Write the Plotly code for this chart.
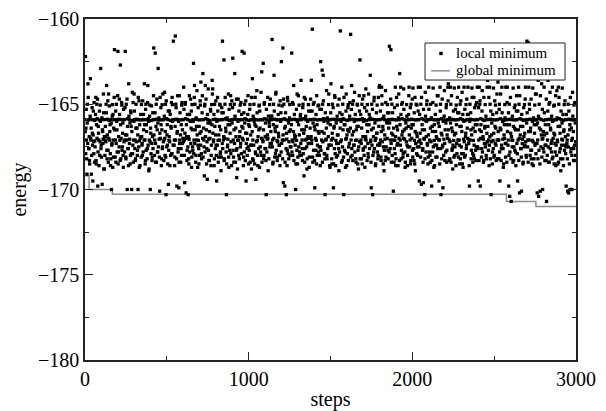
import numpy as np
import plotly.graph_objects as go

# local minimum energy (20 values per row, one value every STEP steps)
STEP = 3
local_min = [
    -165.9, -162.2, -166.4, -167.1, -169.1, -165.0, -163.8, -165.92, -167.6, -168.3, -165.88, -163.5, -167.1, -169.1, -165.9, -166.7, -169.5, -165.4, -167.9, -165.95,
    -167.15, -165.9, -164.6, -168.5, -165.0, -165.85, -169.8, -166.3, -167.1, -165.92, -168.0, -165.05, -162.9, -167.4, -165.9, -169.7, -166.6, -167.05, -165.5, -168.8,
    -165.9, -167.1, -166.9, -165.0, -163.9, -168.2, -165.88, -167.7, -164.4, -165.95, -167.1, -166.2, -168.6, -165.9, -170.0, -167.3, -165.02, -165.6, -168.1, -165.9,
    -161.8, -165.9, -167.1, -168.4, -165.0, -166.5, -165.92, -161.9, -167.8, -165.88, -164.7, -167.12, -162.7, -168.2, -165.9, -165.05, -167.5, -166.1, -168.7, -165.9,
    -165.9, -167.1, -161.9, -168.1, -165.0, -166.8, -170.0, -165.85, -167.6, -163.8, -165.9, -167.05, -168.5, -165.4, -166.3, -170.0, -165.95, -167.9, -164.9, -167.1,
    -164.4, -165.9, -167.1, -168.2, -165.0, -165.88, -166.4, -167.7, -170.0, -165.9, -164.8, -167.15, -168.6, -165.92, -166.9, -165.02, -167.4, -168.0, -165.9, -165.6,
    -165.9, -163.8, -167.1, -168.3, -165.0, -166.2, -165.9, -167.6, -163.9, -165.85, -168.9, -167.1, -165.05, -170.0, -166.7, -165.95, -167.3, -168.1, -165.5, -165.9,
    -161.7, -165.9, -167.1, -162.0, -168.4, -165.0, -165.88, -166.5, -167.8, -162.9, -165.9, -167.05, -170.1, -164.6, -165.92, -166.2, -168.2, -165.03, -167.5, -165.9,
    -165.9, -167.1, -164.3, -168.0, -165.0, -170.3, -165.85, -166.8, -167.4, -165.9, -169.7, -167.12, -165.4, -168.6, -165.95, -166.3, -164.9, -167.9, -165.02, -165.9,
    -161.3, -165.9, -167.1, -168.1, -161.0, -165.0, -165.88, -169.8, -166.6, -165.9, -167.6, -169.9, -164.5, -167.1, -165.92, -168.4, -166.2, -165.05, -167.3, -165.9,
    -165.9, -164.0, -167.1, -169.6, -165.0, -165.85, -170.2, -166.9, -167.7, -165.9, -170.3, -168.2, -167.05, -165.6, -165.95, -164.7, -166.4, -168.7, -165.02, -167.5,
    -165.9, -162.6, -167.1, -163.9, -165.0, -165.88, -168.0, -166.3, -164.2, -165.9, -167.4, -167.12, -168.5, -165.92, -166.7, -165.05, -163.7, -167.9, -165.9, -164.5,
    -163.2, -165.9, -167.1, -169.2, -165.0, -163.9, -165.85, -166.5, -167.6, -169.4, -165.9, -164.1, -167.05, -168.3, -165.95, -166.1, -165.4, -168.0, -165.02, -163.6,
    -164.1, -165.9, -167.1, -168.6, -165.0, -165.88, -166.8, -167.4, -169.5, -165.9, -164.6, -167.12, -168.1, -165.92, -166.3, -165.05, -167.8, -168.9, -165.9, -165.5,
    -161.3, -165.9, -167.1, -162.4, -168.2, -165.0, -165.85, -166.6, -170.3, -165.9, -167.5, -167.05, -164.4, -168.7, -165.95, -166.2, -165.02, -167.9, -165.9, -164.8,
    -165.9, -162.3, -167.1, -168.4, -165.0, -163.2, -165.88, -166.4, -167.7, -169.3, -165.9, -167.12, -164.7, -168.0, -165.92, -166.9, -165.05, -167.3, -165.9, -165.6,
    -161.9, -165.9, -167.1, -168.1, -162.0, -165.0, -165.85, -166.7, -169.5, -165.9, -167.6, -167.05, -164.5, -168.5, -165.95, -166.3, -165.02, -167.4, -165.9, -168.8,
    -165.9, -163.5, -167.1, -168.3, -165.0, -165.88, -166.2, -167.8, -169.4, -165.9, -164.2, -167.12, -168.6, -165.92, -166.5, -165.05, -165.4, -167.5, -165.9, -168.0,
    -163.1, -165.9, -167.1, -162.6, -168.2, -165.0, -165.85, -166.9, -167.6, -170.3, -165.9, -167.05, -164.6, -168.9, -165.95, -166.1, -165.02, -167.3, -165.9, -165.7,
    -165.9, -161.2, -167.1, -168.4, -165.0, -163.3, -165.88, -166.4, -167.9, -164.3, -165.9, -167.12, -168.1, -165.92, -166.7, -165.05, -167.4, -168.6, -165.9, -165.5,
    -162.5, -165.9, -167.1, -161.7, -169.6, -165.0, -165.85, -169.8, -166.3, -165.9, -170.3, -167.05, -167.7, -164.8, -165.95, -168.2, -166.6, -165.02, -167.5, -165.9,
    -165.9, -162.0, -167.1, -168.0, -165.0, -163.9, -165.88, -166.8, -167.4, -170.0, -165.9, -167.12, -164.4, -168.5, -165.92, -166.2, -165.05, -167.8, -165.9, -165.6,
    -163.6, -165.9, -167.1, -168.3, -165.0, -165.85, -169.2, -166.5, -167.6, -164.7, -165.9, -167.05, -168.8, -165.95, -166.9, -165.02, -167.3, -168.1, -165.9, -165.4,
    -165.9, -163.6, -167.1, -160.6, -168.4, -165.0, -165.88, -166.3, -169.9, -165.9, -167.7, -167.12, -164.5, -168.0, -165.92, -166.6, -165.05, -167.5, -165.9, -168.6,
    -162.5, -165.9, -167.1, -163.0, -165.0, -163.3, -165.85, -166.7, -167.9, -170.3, -165.9, -167.05, -164.2, -168.2, -165.95, -166.1, -165.02, -167.4, -165.9, -168.7,
    -165.9, -163.8, -167.1, -168.5, -165.0, -165.88, -169.9, -166.4, -167.6, -164.6, -165.9, -167.12, -168.1, -165.92, -166.8, -165.05, -167.3, -168.9, -165.9, -165.5,
    -160.7, -165.9, -167.1, -164.0, -168.3, -165.0, -165.85, -170.3, -166.2, -165.9, -167.8, -167.05, -164.4, -168.6, -165.95, -166.5, -165.02, -167.5, -165.9, -165.7,
    -165.9, -160.9, -167.1, -163.9, -168.0, -165.0, -165.88, -166.6, -167.4, -164.3, -165.9, -167.12, -168.4, -165.92, -166.3, -165.05, -167.7, -168.8, -165.9, -165.4,
    -162.4, -165.9, -167.1, -168.2, -165.0, -165.85, -166.9, -167.6, -164.5, -165.9, -168.7, -167.05, -164.1, -165.95, -166.2, -165.02, -167.3, -168.1, -165.9, -165.6,
    -165.9, -163.3, -167.1, -169.9, -165.0, -165.88, -170.3, -166.4, -167.8, -164.6, -165.9, -167.12, -168.5, -165.92, -166.7, -165.05, -167.4, -168.0, -165.9, -164.0,
    -163.9, -165.9, -167.1, -168.3, -164.0, -165.0, -165.85, -166.5, -167.5, -168.9, -165.9, -167.05, -164.2, -168.1, -165.95, -166.1, -165.02, -167.7, -165.9, -165.5,
    -161.6, -165.9, -167.1, -161.8, -168.4, -165.0, -165.88, -166.8, -170.1, -165.9, -167.6, -167.12, -164.0, -168.6, -165.92, -166.3, -165.05, -167.3, -165.9, -164.4,
    -165.9, -163.2, -167.1, -164.0, -168.2, -165.0, -165.85, -166.6, -167.9, -164.1, -165.9, -167.05, -168.7, -165.95, -166.4, -165.02, -167.4, -168.0, -165.9, -165.6,
    -164.0, -165.9, -167.1, -168.5, -165.0, -165.88, -166.2, -167.7, -164.05, -165.9, -168.3, -167.12, -164.6, -168.9, -165.92, -166.7, -165.05, -167.5, -165.9, -164.0,
    -165.9, -169.5, -167.1, -164.0, -165.0, -169.7, -165.85, -166.5, -167.6, -169.6, -165.9, -167.05, -170.3, -164.3, -165.95, -166.9, -165.02, -167.3, -165.9, -168.1,
    -164.0, -165.9, -167.1, -168.4, -165.0, -165.88, -169.8, -166.3, -167.8, -164.05, -165.9, -167.12, -168.6, -165.92, -166.6, -165.05, -167.4, -168.1, -165.9, -164.5,
    -165.9, -169.5, -167.1, -164.0, -165.0, -170.3, -165.85, -166.8, -167.5, -169.9, -165.9, -167.05, -164.2, -168.3, -165.95, -166.1, -165.02, -167.7, -165.9, -164.0,
    -163.8, -165.9, -167.1, -168.2, -164.0, -165.0, -165.88, -166.4, -167.6, -168.8, -165.9, -167.12, -164.05, -168.0, -165.92, -166.7, -165.05, -167.3, -165.9, -165.5,
    -165.9, -164.0, -167.1, -168.5, -165.0, -165.85, -166.3, -167.9, -164.3, -165.9, -168.7, -167.05, -164.0, -168.1, -165.95, -166.9, -165.02, -167.4, -165.9, -165.6,
    -164.0, -165.9, -167.1, -169.8, -165.0, -165.88, -166.5, -167.7, -164.05, -165.9, -168.4, -167.12, -164.6, -168.2, -165.92, -166.2, -165.05, -167.5, -165.9, -164.0,
    -165.9, -169.5, -167.1, -164.0, -165.0, -169.8, -165.85, -166.6, -167.6, -164.2, -165.9, -167.05, -168.3, -165.95, -166.4, -165.02, -167.3, -168.0, -165.9, -164.0,
    -163.6, -165.9, -167.1, -168.6, -164.0, -165.0, -165.88, -170.3, -166.8, -165.9, -167.8, -167.12, -164.05, -168.1, -165.92, -166.3, -165.05, -167.4, -165.9, -164.4,
    -165.9, -163.7, -167.1, -168.2, -165.0, -169.5, -165.85, -166.5, -167.6, -164.0, -165.9, -167.05, -168.7, -165.95, -166.2, -165.02, -167.3, -164.0, -165.9, -168.4,
    -164.0, -165.9, -167.1, -169.8, -165.0, -170.4, -165.88, -166.7, -170.7, -165.9, -167.5, -167.12, -164.05, -168.3, -165.92, -166.4, -165.05, -167.8, -165.9, -164.5,
    -165.9, -169.5, -167.1, -164.0, -165.0, -170.2, -165.85, -166.3, -167.6, -170.1, -165.9, -167.05, -168.5, -165.95, -166.9, -165.02, -167.4, -164.0, -165.9, -168.1,
    -161.3, -165.9, -167.1, -161.4, -164.0, -165.0, -165.88, -166.6, -167.7, -168.2, -165.9, -167.12, -164.05, -168.6, -165.92, -166.2, -165.05, -167.3, -165.9, -164.4,
    -165.9, -170.2, -167.1, -163.6, -170.4, -165.0, -165.85, -170.1, -166.5, -165.9, -163.8, -167.05, -170.0, -167.6, -165.95, -164.0, -166.8, -167.4, -165.9, -168.3,
    -170.7, -165.9, -167.1, -163.6, -168.4, -165.0, -165.88, -164.3, -166.4, -165.9, -167.8, -167.12, -164.0, -168.1, -165.92, -166.7, -165.05, -167.3, -165.9, -168.6,
    -165.9, -164.2, -167.1, -168.5, -164.0, -165.0, -165.85, -166.3, -167.6, -168.9, -165.9, -167.05, -164.05, -168.2, -165.95, -166.6, -165.02, -167.4, -165.9, -167.9,
    -169.8, -165.9, -167.1, -170.1, -165.0, -170.2, -165.88, -166.5, -170.0, -165.9, -167.6, -167.12, -170.0, -164.3, -165.92, -168.3, -165.05, -167.4, -165.9, -168.0,
]

# the steps in between: the body of the band, -164.4 .. -168.8
local_min_mid = [
    -166.6, -167.9, -165.3, -168.2, -166.1, -167.3, -164.6, -167.6, -166.9, -168.5, -165.7, -167.0, -166.4, -168.0, -165.2, -167.4, -166.8, -167.2, -164.9, -168.4,
    -167.5, -165.6, -168.3, -166.2, -167.0, -164.7, -167.8, -166.7, -168.6, -165.4, -167.2, -166.0, -167.6, -168.1, -165.8, -166.5, -167.3, -164.4, -168.8, -166.9,
    -168.0, -166.3, -167.2, -165.5, -167.7, -166.8, -164.8, -168.4, -167.0, -165.1, -166.6, -167.9, -168.2, -166.1, -167.4, -165.7, -168.7, -167.1, -166.4, -164.6,
    -166.5, -168.1, -165.4, -167.3, -166.0, -167.8, -164.5, -168.5, -166.9, -167.5, -165.6, -168.3, -166.2, -167.0, -164.9, -167.7, -166.7, -168.0, -165.3, -167.2,
    -167.8, -165.2, -166.8, -168.2, -167.1, -164.7, -166.3, -167.6, -168.6, -165.7, -167.3, -166.1, -168.0, -165.5, -167.9, -166.6, -164.3, -167.4, -168.4, -166.0,
    -165.4, -167.6, -168.3, -166.4, -167.2, -165.9, -168.0, -166.8, -164.6, -167.5, -168.7, -166.2, -167.0, -165.6, -168.1, -166.9, -167.3, -164.8, -167.8, -166.5,
    -167.1, -166.2, -168.5, -165.3, -167.7, -166.6, -168.2, -164.9, -167.4, -166.0, -168.8, -165.7, -167.2, -166.4, -167.9, -165.1, -168.3, -166.9, -167.6, -164.5,
    -166.8, -168.0, -165.5, -167.3, -166.3, -168.4, -164.7, -167.8, -166.1, -167.5, -165.8, -168.1, -166.7, -167.0, -165.2, -168.6, -166.5, -167.6, -164.4, -167.2,
    -168.3, -165.7, -167.0, -166.6, -168.1, -164.8, -167.5, -166.2, -168.5, -165.4, -167.7, -166.9, -167.2, -165.6, -168.0, -166.4, -167.9, -164.6, -166.0, -167.4,
    -165.9, -167.4, -168.6, -166.3, -167.1, -165.2, -168.2, -166.7, -164.5, -167.8, -166.0, -168.4, -167.3, -165.5, -166.8, -167.6, -168.0, -164.9, -166.5, -167.0,
    -167.2, -165.3, -168.0, -166.7, -164.9, -167.0, -166.2, -168.3, -165.6, -167.5, -166.9, -168.5, -164.5, -167.8, -166.0, -167.3, -165.4, -168.1, -166.5, -167.7,
    -166.0, -167.9, -164.6, -167.3, -166.5, -168.4, -165.8, -167.1, -166.8, -168.7, -165.2, -167.6, -166.3, -168.0, -164.8, -167.4, -166.6, -168.2, -165.5, -167.0,
    -168.1, -166.4, -167.5, -165.1, -167.8, -166.9, -164.7, -168.5, -167.2, -165.6, -166.1, -167.7, -168.3, -166.6, -167.0, -165.3, -168.6, -167.4, -166.2, -164.4,
    -166.7, -167.2, -165.6, -168.2, -166.3, -167.6, -164.8, -168.0, -166.0, -167.4, -165.4, -168.4, -166.8, -167.1, -165.0, -167.9, -166.5, -168.1, -165.2, -167.3,
    -167.6, -165.5, -166.9, -168.3, -167.0, -164.6, -166.4, -167.8, -168.5, -165.8, -167.4, -166.2, -168.1, -165.3, -167.7, -166.7, -164.5, -167.2, -168.6, -166.1,
    -165.2, -167.7, -168.1, -166.5, -167.3, -165.7, -168.4, -166.9, -164.7, -167.6, -168.8, -166.0, -167.1, -165.4, -168.2, -166.6, -167.5, -164.9, -167.9, -166.3,
    -167.0, -166.4, -168.6, -165.5, -167.8, -166.1, -168.3, -164.8, -167.3, -166.7, -168.0, -165.6, -167.5, -166.2, -167.7, -165.3, -168.4, -166.8, -167.4, -164.6,
    -166.6, -168.2, -165.7, -167.4, -166.0, -168.5, -164.6, -167.9, -166.3, -167.2, -165.5, -168.0, -166.9, -167.6, -165.1, -168.7, -166.4, -167.8, -164.3, -167.0,
    -168.4, -165.9, -167.2, -166.5, -168.0, -164.9, -167.6, -166.1, -168.3, -165.3, -167.8, -166.8, -167.0, -165.7, -168.2, -166.3, -167.5, -164.7, -166.6, -167.3,
    -165.7, -167.5, -168.5, -166.2, -167.0, -165.4, -168.1, -166.6, -164.4, -167.7, -166.3, -168.3, -167.2, -165.6, -166.9, -167.4, -168.0, -164.8, -166.0, -167.8,
    -167.3, -165.1, -168.2, -166.8, -164.7, -167.1, -166.4, -168.4, -165.5, -167.6, -166.7, -168.6, -164.6, -167.9, -166.1, -167.2, -165.8, -168.0, -166.5, -167.5,
    -166.2, -167.8, -164.9, -167.2, -166.6, -168.3, -165.6, -167.0, -166.9, -168.5, -165.3, -167.7, -166.0, -168.1, -164.5, -167.5, -166.8, -168.0, -165.7, -167.3,
    -168.0, -166.5, -167.6, -165.2, -167.9, -166.7, -164.6, -168.4, -167.1, -165.7, -166.3, -167.5, -168.2, -166.0, -167.3, -165.4, -168.7, -167.0, -166.4, -164.7,
    -166.9, -167.3, -165.4, -168.1, -166.1, -167.7, -164.9, -168.3, -166.5, -167.0, -165.6, -168.5, -166.2, -167.4, -165.1, -167.8, -166.7, -168.0, -165.3, -167.5,
    -167.7, -165.3, -166.6, -168.4, -167.2, -164.8, -166.0, -167.9, -168.2, -165.5, -167.1, -166.4, -168.0, -165.8, -167.6, -166.9, -164.4, -167.4, -168.6, -166.2,
    -165.5, -167.4, -168.2, -166.7, -167.0, -165.2, -168.5, -166.3, -164.5, -167.9, -168.6, -166.1, -167.3, -165.7, -168.0, -166.8, -167.6, -164.7, -167.8, -166.4,
    -167.2, -166.0, -168.4, -165.6, -167.5, -166.5, -168.1, -164.6, -167.7, -166.2, -168.7, -165.4, -167.0, -166.8, -167.9, -165.2, -168.3, -166.6, -167.3, -164.9,
    -166.4, -168.1, -165.3, -167.6, -166.8, -168.3, -164.8, -167.4, -166.0, -167.8, -165.6, -168.2, -166.5, -167.1, -165.0, -168.5, -166.3, -167.5, -164.5, -167.2,
    -168.2, -165.6, -167.3, -166.4, -168.5, -164.7, -167.7, -166.0, -168.0, -165.2, -167.5, -166.9, -167.1, -165.4, -168.3, -166.6, -167.9, -164.4, -166.2, -167.6,
    -165.8, -167.2, -168.4, -166.5, -167.4, -165.3, -168.0, -166.9, -164.8, -167.6, -166.1, -168.6, -167.0, -165.5, -166.7, -167.8, -168.2, -164.6, -166.3, -167.3,
    -167.4, -165.4, -168.1, -166.6, -164.5, -167.2, -166.3, -168.5, -165.7, -167.7, -166.8, -168.3, -164.9, -167.5, -166.0, -167.0, -165.5, -168.2, -166.4, -167.8,
    -166.1, -167.6, -164.7, -167.3, -166.7, -168.0, -165.5, -167.1, -166.4, -168.4, -165.2, -167.9, -166.9, -168.2, -164.6, -167.4, -166.5, -168.6, -165.8, -167.0,
    -168.3, -166.2, -167.4, -165.6, -167.7, -166.8, -164.9, -168.1, -167.0, -165.3, -166.5, -167.8, -168.4, -166.1, -167.2, -165.7, -168.6, -167.5, -166.3, -164.5,
    -166.8, -167.5, -165.2, -168.3, -166.4, -167.0, -164.7, -168.1, -166.2, -167.6, -165.5, -168.5, -166.6, -167.3, -165.0, -167.9, -166.9, -168.0, -165.4, -167.2,
    -167.5, -165.6, -166.7, -168.1, -167.3, -164.6, -166.2, -167.7, -168.4, -165.3, -167.0, -166.5, -168.2, -165.7, -167.8, -166.0, -164.8, -167.4, -168.5, -166.8,
    -165.3, -167.8, -168.0, -166.4, -167.2, -165.8, -168.3, -166.6, -164.9, -167.5, -168.7, -166.2, -167.4, -165.6, -168.1, -166.9, -167.0, -164.5, -167.6, -166.1,
    -167.1, -166.3, -168.5, -165.4, -167.6, -166.7, -168.2, -164.7, -167.4, -166.0, -168.0, -165.7, -167.3, -166.5, -167.8, -165.2, -168.4, -166.8, -167.0, -164.8,
    -166.5, -168.3, -165.8, -167.2, -166.1, -168.4, -164.5, -167.7, -166.6, -167.4, -165.4, -168.1, -166.8, -167.5, -165.3, -168.6, -166.2, -167.9, -164.6, -167.1,
    -168.1, -165.5, -167.4, -166.3, -168.2, -164.8, -167.5, -166.6, -168.5, -165.6, -167.9, -166.0, -167.2, -165.3, -168.0, -166.7, -167.6, -164.7, -166.4, -167.0,
    -165.6, -167.3, -168.6, -166.0, -167.1, -165.5, -168.2, -166.8, -164.6, -167.9, -166.4, -168.0, -167.4, -165.2, -166.6, -167.7, -168.3, -164.9, -166.2, -167.5,
    -167.6, -165.2, -168.3, -166.5, -164.8, -167.0, -166.2, -168.1, -165.4, -167.8, -166.9, -168.4, -164.6, -167.3, -166.3, -167.5, -165.7, -168.2, -166.7, -167.2,
    -166.3, -167.7, -164.6, -167.4, -166.9, -168.2, -165.4, -167.2, -166.1, -168.5, -165.6, -167.6, -166.7, -168.0, -164.8, -167.3, -166.4, -168.3, -165.5, -167.1,
    -168.2, -166.6, -167.1, -165.3, -167.8, -166.4, -164.4, -168.3, -167.4, -165.5, -166.0, -167.6, -168.5, -166.8, -167.0, -165.8, -168.1, -167.3, -166.2, -164.9,
    -166.6, -167.4, -165.5, -168.0, -166.2, -167.8, -164.6, -168.2, -166.9, -167.1, -165.7, -168.4, -166.3, -167.5, -165.2, -167.7, -166.5, -168.6, -165.4, -167.3,
    -167.9, -165.4, -166.5, -168.3, -167.0, -164.5, -166.8, -167.6, -168.1, -165.6, -167.3, -166.3, -168.4, -165.2, -167.5, -166.7, -164.7, -167.2, -168.0, -166.1,
    -165.5, -167.5, -168.4, -166.6, -167.1, -165.3, -168.0, -166.4, -164.7, -167.7, -168.5, -166.0, -167.2, -165.8, -168.2, -166.7, -167.4, -164.4, -167.9, -166.2,
    -167.3, -166.1, -168.2, -165.7, -167.7, -166.4, -168.5, -164.5, -167.5, -166.8, -168.1, -165.3, -167.0, -166.6, -167.8, -165.5, -168.3, -166.2, -167.4, -164.7,
    -166.7, -168.0, -165.4, -167.5, -166.2, -168.4, -164.9, -167.6, -166.5, -167.3, -165.7, -168.2, -166.0, -167.0, -165.1, -168.5, -166.8, -167.8, -164.5, -167.4,
    -168.0, -165.8, -167.2, -166.3, -168.4, -164.6, -167.8, -166.7, -168.2, -165.4, -167.4, -166.1, -167.1, -165.6, -168.6, -166.5, -167.7, -164.8, -166.9, -167.5,
    -165.6, -167.3, -168.2, -166.8, -167.5, -165.4, -168.5, -166.2, -164.6, -167.8, -166.4, -168.0, -167.0, -165.7, -166.6, -167.6, -168.3, -164.9, -166.1, -167.2,
]

local_steps = np.arange(len(local_min)) * STEP
mid_steps = np.arange(len(local_min_mid)) * STEP + 1.5

# global minimum found so far (step function)
global_steps = [0, 25, 167, 2575, 2755, 3000]
global_min = [-169.2, -170.0, -170.28, -170.7, -171.0, -171.0]

legend_labels = ["local minimum", "global minimum"]

SERIF = "Liberation Serif"
LINE_GRAY = "#8c8c8c"

fig = go.Figure()

fig.add_trace(
    go.Scatter(
        x=global_steps,
        y=global_min,
        mode="lines",
        line=dict(color=LINE_GRAY, width=1.5, shape="hv"),
        name=legend_labels[1],
    )
)

fig.add_trace(
    go.Scatter(
        x=np.concatenate([local_steps, mid_steps]),
        y=local_min + local_min_mid,
        mode="markers",
        marker=dict(symbol="square", size=3.3, color="black", line=dict(width=0)),
        name=legend_labels[0],
    )
)

axis_style = dict(
    showline=True,
    linecolor="#222",
    linewidth=1.5,
    mirror="allticks",
    ticks="inside",
    ticklen=8,
    tickwidth=1,
    tickcolor="#222",
    showgrid=False,
    zeroline=False,
    automargin=False,
    tickfont=dict(family=SERIF, size=20, color="black"),
)

fig.update_xaxes(
    range=[0, 3000],
    tickvals=[0, 1000, 2000, 3000],
    minor=dict(dtick=500, tick0=0, ticks="inside", ticklen=4, tickcolor="#222"),
    title=dict(text="steps", font=dict(family=SERIF, size=20, color="black"), standoff=8),
    **axis_style,
)
fig.update_yaxes(
    range=[-180, -160],
    tickvals=[-180, -175, -170, -165, -160],
    minor=dict(dtick=2.5, tick0=-180, ticks="inside", ticklen=4, tickcolor="#222"),
    title=dict(text="energy", font=dict(family=SERIF, size=20, color="black"), standoff=19),
    **axis_style,
)

# hand-drawn legend box (tighter rows than plotly's own legend)
fig.add_shape(
    type="rect", xref="paper", yref="paper",
    x0=0.6925, x1=0.9776, y0=0.821, y1=0.9296,
    line=dict(color="#222", width=1), fillcolor="white", layer="above",
)
fig.add_shape(
    type="rect", xref="paper", yref="paper",
    x0=0.7215, x1=0.7285, y0=0.894, y1=0.904,
    line=dict(width=0), fillcolor="black", layer="above",
)
fig.add_shape(
    type="line", xref="paper", yref="paper",
    x0=0.705, x1=0.743, y0=0.848, y1=0.848,
    line=dict(color=LINE_GRAY, width=1.5), layer="above",
)
for label, ypos in zip(legend_labels, [0.900, 0.849]):
    fig.add_annotation(
        text=label, xref="paper", yref="paper", x=0.752, y=ypos,
        xanchor="left", yanchor="middle", showarrow=False,
        font=dict(family=SERIF, size=15, color="black"),
    )

# the page adds an 8px body margin at top-left, so the figure is 8px smaller
fig.update_layout(
    width=598,
    height=403,
    margin=dict(l=77, r=30, t=11, b=51),
    paper_bgcolor="white",
    plot_bgcolor="white",
    font=dict(family=SERIF, color="black"),
    showlegend=False,
)

fig.write_html("out.html")
